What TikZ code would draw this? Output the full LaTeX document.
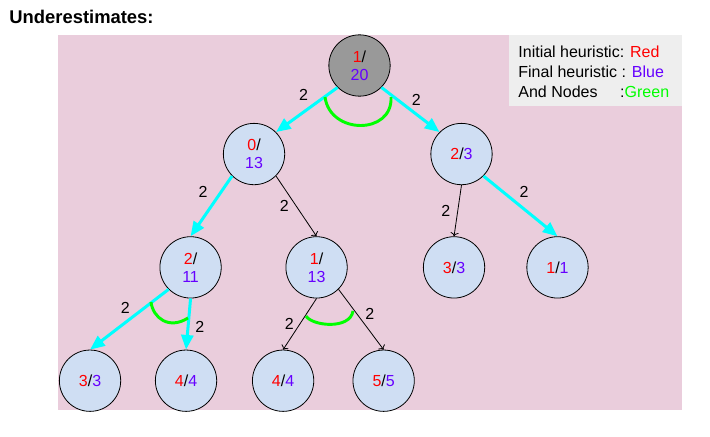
\documentclass[tikz,border=0pt]{standalone}
\usepackage{fontspec}
\setmainfont{Liberation Sans}
\usetikzlibrary{arrows.meta}

\definecolor{pinkbg}{RGB}{234,205,220}
\definecolor{keygray}{RGB}{238,238,238}
\definecolor{nodeblue}{RGB}{207,222,243}
\definecolor{rootgray}{RGB}{153,153,153}
\definecolor{hred}{RGB}{255,0,0}
\definecolor{hblue}{RGB}{102,0,255}
\definecolor{hgreen}{RGB}{0,255,0}
\definecolor{hcyan}{RGB}{0,255,255}

\begin{document}
\begin{tikzpicture}[->,auto,node distance=85pt,line width=0.6pt,x=0.75pt,y=-0.75pt,
  font=\fontsize{12}{13.5}\selectfont,
  hnode/.style={circle,draw,fill=nodeblue,minimum size=46pt,inner sep=0pt,align=center},
  bestedge/.style={draw=hcyan,line width=2.25pt,-{Triangle[length=11pt,width=9pt]}},
  andarc/.style={-,draw=hgreen,line width=2.2pt}]
  \useasboundingbox (0,0) rectangle (710,436);
  \fill[pinkbg] (58,35) rectangle (682,410);
  \fill[keygray] (509,35) rectangle (682,106);

  \node[anchor=base west,inner sep=0pt,font=\fontsize{13.8}{16}\selectfont\bfseries] (title) at (9,23) {Underestimates:};
  \node[anchor=north west,inner sep=0pt,align=left,font=\fontsize{12}{15}\selectfont] (key) at (518,45.5)
    {Initial heuristic: \textcolor{hred}{Red}\\
     Final heuristic : \textcolor{hblue}{Blue}\\
     And Nodes\hspace{17pt}:\textcolor{hgreen}{Green}};

  \node[hnode,fill=rootgray] (R) at (359.5,65.5) {\textcolor{hred}{1}/\\\textcolor{hblue}{20}};
  \node[hnode] (A) [node distance=66.4pt,below of=R,xshift=-79.1pt] {\textcolor{hred}{0}/\\\textcolor{hblue}{13}};
  \node[hnode] (B) [node distance=66.4pt,below of=R,xshift=76.5pt] {\textcolor{hred}{2}/\textcolor{hblue}{3}};
  \node[hnode] (C) [below of=A,xshift=-47.6pt] {\textcolor{hred}{2}/\\\textcolor{hblue}{11}};
  \node[hnode] (D) [below of=A,xshift=46.9pt] {\textcolor{hred}{1}/\\\textcolor{hblue}{13}};
  \node[hnode] (E) [below of=B,xshift=-5.6pt] {\textcolor{hred}{3}/\textcolor{hblue}{3}};
  \node[hnode] (F) [below of=B,xshift=72pt] {\textcolor{hred}{1}/\textcolor{hblue}{1}};
  \node[hnode] (G) [below of=C,xshift=-75.4pt] {\textcolor{hred}{3}/\textcolor{hblue}{3}};
  \node[hnode] (H) [below of=C,xshift=-3.4pt] {\textcolor{hred}{4}/\textcolor{hblue}{4}};
  \node[hnode] (I) [below of=D,xshift=-25.1pt] {\textcolor{hred}{4}/\textcolor{hblue}{4}};
  \node[hnode] (J) [below of=D,xshift=50.3pt] {\textcolor{hred}{5}/\textcolor{hblue}{5}};

  \path (R.south west) edge [bestedge] node [pos=0.55,above=4pt] {2} (A.north east)
        (R.south east) edge [bestedge] node [pos=0.6,above=2pt] {2} (B.north west)
        (A.south west) edge [bestedge] node [swap,pos=0.45] {2} (C.north)
        (A.south east) edge node [left=2pt] {2} (D.north)
        (B.south) edge node [left=2pt] {2} (E.north)
        (B.south east) edge [bestedge] node [pos=0.55,above=4pt] {2} (F.north)
        (C.south west) edge [bestedge] node [pos=0.55,above=2pt] {2} (G.north)
        (C.south) edge [bestedge] node [pos=0.55,right=1pt] {2} (H.north)
        (D.south) edge node [left=1pt] {2} (I.north)
        (D.south east) edge node [pos=0.4,right=3pt] {2} (J.north);

  % and-arcs
  \draw[andarc] (325,97) .. controls (330,135) and (393,135) .. (391,97);
  \draw[andarc] (151,302) .. controls (153,318) and (169,330) .. (188,318);
  \draw[andarc] (306,316) .. controls (312,326) and (350,330) .. (353,311);
\end{tikzpicture}
\end{document}
